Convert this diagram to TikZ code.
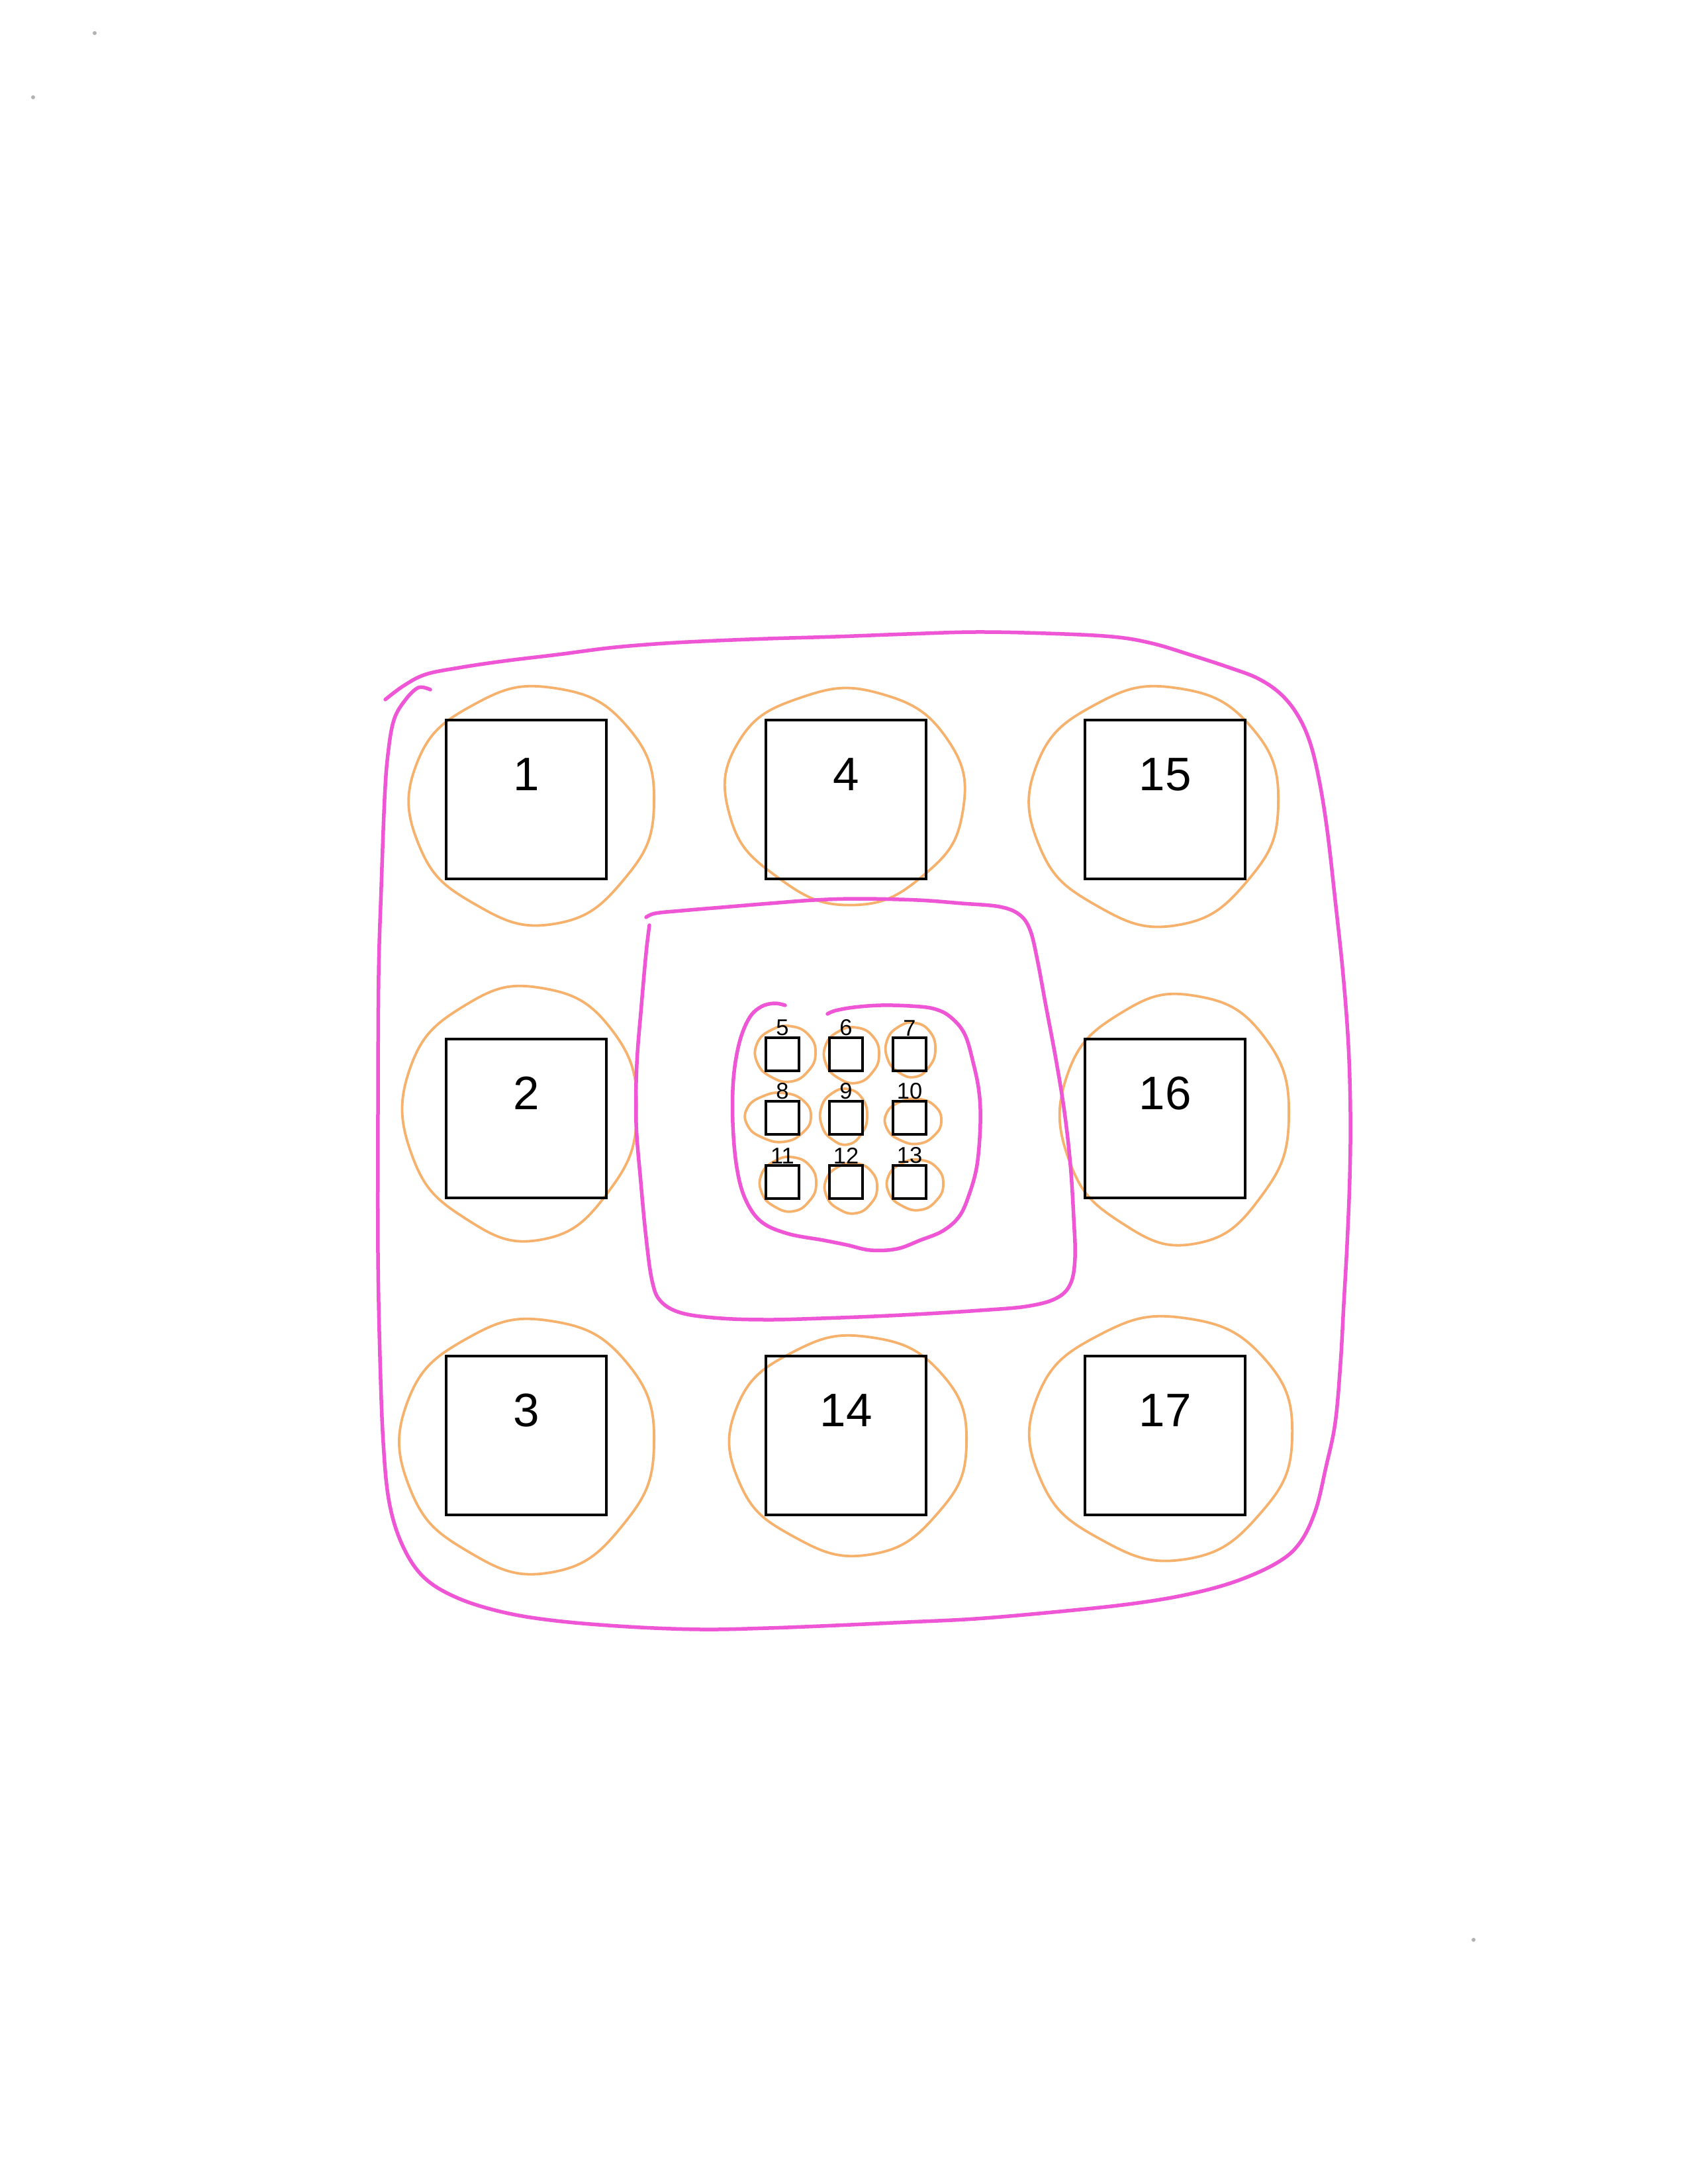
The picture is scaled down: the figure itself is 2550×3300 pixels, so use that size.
\documentclass[tikz,border=0pt]{standalone}
\usepackage{fontspec}
\setmainfont{Liberation Sans}
\definecolor{pnk}{RGB}{238,86,214}
\definecolor{orng}{RGB}{246,178,108}
\tikzset{
  ostroke/.style={draw=orng, line width=0.38mm},
  pstroke/.style={draw=pnk, line width=0.55mm, line cap=round, line join=round},
  bigbox/.style={draw=black, line width=0.45mm, minimum width=24.2mm, minimum height=24mm, inner sep=0pt},
  smallbox/.style={draw=black, line width=0.42mm, minimum width=5mm, minimum height=5mm, inner sep=0pt},
  biglbl/.style={font=\fontsize{20.2}{24}\selectfont, inner sep=0pt},
  smalllbl/.style={font=\fontsize{9.8}{12}\selectfont, inner sep=0pt},
}
\newcommand{\oblob}[5]{%
  \begin{scope}[shift={(#1,#2)},rotate=#5]
  \draw[ostroke] plot[smooth cycle,tension=0.8] coordinates {
    ({1.00*#3*cos(0)},{1.00*#4*sin(0)})
    ({0.98*#3*cos(40)},{0.98*#4*sin(40)})
    ({1.02*#3*cos(80)},{1.02*#4*sin(80)})
    ({0.97*#3*cos(120)},{0.97*#4*sin(120)})
    ({1.01*#3*cos(160)},{1.01*#4*sin(160)})
    ({1.03*#3*cos(200)},{1.03*#4*sin(200)})
    ({0.98*#3*cos(240)},{0.98*#4*sin(240)})
    ({1.00*#3*cos(280)},{1.00*#4*sin(280)})
    ({1.02*#3*cos(320)},{1.02*#4*sin(320)})
  };
  \end{scope}}
\begin{document}
\begin{tikzpicture}[x=0.1mm,y=-0.1mm]
\fill[white] (0,0) rectangle (2550,3300);
\useasboundingbox (0,0) rectangle (2550,3300);

% scan specks
\fill[gray!60] (143,50) circle (3);
\fill[gray!60] (50,147) circle (3);
\fill[gray!60] (2226,2931) circle (3);

% orange rings, big
\oblob{806}{1216}{182}{179}{0}
\oblob{1278}{1202}{178}{162}{-8}
\oblob{1746}{1217}{185}{180}{0}
\oblob{788}{1681}{174}{191}{0}
\oblob{1777}{1690}{170}{188}{0}
\oblob{799}{2184}{189}{191}{0}
\oblob{1284}{2183}{176}{165}{0}
\oblob{1757}{2172}{195}{183}{0}
% orange rings, small
\oblob{1187}{1592}{45}{42}{0}
\oblob{1287}{1594}{41}{42}{0}
\oblob{1376}{1586}{37}{41}{0}
\oblob{1176}{1688}{49}{37}{0}
\oblob{1275}{1687}{35}{42}{0}
\oblob{1380}{1694}{42}{34}{0}
\oblob{1191}{1789}{42}{41}{0}
\oblob{1286}{1795}{39}{38}{0}
\oblob{1383}{1790}{42}{38}{0}

% outer pink loop
\draw[pstroke] plot[smooth,tension=0.6] coordinates {
 (650,1042) (632,1039) (612,1058) (595,1088) (586,1140) (581,1207)
 (576,1340) (572,1473) (571,1680) (571,1894) (574,2050) (579,2180)
 (588,2270) (608,2335) (640,2383) (690,2414) (760,2436) (840,2449)
 (950,2458) (1060,2462) (1160,2460) (1262,2456) (1370,2451) (1473,2446)
 (1590,2436) (1704,2424) (1790,2410) (1865,2390) (1928,2362) (1963,2332)
 (1987,2283) (2003,2217) (2017,2150) (2025,2060) (2030,1970) (2035,1880)
 (2039,1780) (2040,1683) (2037,1580) (2029,1473) (2017,1360) (2005,1255)
 (1993,1180) (1979,1122) (1960,1080) (1934,1048) (1900,1025) (1858,1009)
 (1800,990) (1740,972) (1680,962) (1580,957) (1473,955) (1370,958)
 (1262,962) (1160,965) (1060,969) (990,973) (920,979) (843,989)
 (760,999) (693,1009) (643,1019) (610,1036) (582,1057)};

% inner pink loop
\draw[pstroke] plot[smooth,tension=0.6] coordinates {
 (976,1386) (990,1380) (1030,1376) (1090,1371) (1163,1365) (1230,1360)
 (1297,1358) (1386,1360) (1453,1365) (1510,1370) (1540,1382) (1556,1405)
 (1567,1450) (1580,1520) (1595,1600) (1608,1680) (1617,1760) (1622,1840)
 (1624,1900) (1617,1940) (1595,1962) (1550,1974) (1480,1980) (1400,1985)
 (1320,1989) (1240,1992) (1163,1994) (1090,1992) (1030,1984) (998,1966)
 (985,1935) (976,1870) (968,1786) (961,1697) (962,1608) (969,1519)
 (976,1440) (981,1398)};

% middle pink loop round the small boxes
\draw[pstroke] plot[smooth,tension=0.6] coordinates {
 (1186,1519) (1170,1516) (1150,1521) (1132,1538) (1117,1575) (1108,1630)
 (1107,1697) (1113,1764) (1126,1812) (1150,1846) (1190,1864) (1244,1874)
 (1279,1881) (1315,1889) (1355,1887) (1390,1874) (1424,1860) (1449,1838)
 (1464,1805) (1476,1760) (1481,1697) (1479,1650) (1470,1605) (1457,1562)
 (1435,1536) (1410,1524) (1375,1520) (1330,1519) (1290,1522) (1262,1527)
 (1250,1532)};

% big boxes
\node[bigbox, label={[biglbl,yshift=3.8mm]center:1}]  (b1)  at (795,1208)  {};
\node[bigbox, label={[biglbl,yshift=3.8mm]center:4}]  (b4)  at (1278,1208) {};
\node[bigbox, label={[biglbl,yshift=3.8mm]center:15}] (b15) at (1760,1208) {};
\node[bigbox, label={[biglbl,yshift=3.8mm]center:2}]  (b2)  at (795,1690)  {};
\node[bigbox, label={[biglbl,yshift=3.8mm]center:16}] (b16) at (1760,1690) {};
\node[bigbox, label={[biglbl,yshift=3.8mm]center:3}]  (b3)  at (795,2169)  {};
\node[bigbox, label={[biglbl,yshift=3.8mm]center:14}] (b14) at (1278,2169) {};
\node[bigbox, label={[biglbl,yshift=3.8mm]center:17}] (b17) at (1760,2169) {};

% small boxes
\node[smallbox, label={[smalllbl]north:5}]  (s5)  at (1182,1593) {};
\node[smallbox, label={[smalllbl]north:6}]  (s6)  at (1278,1593) {};
\node[smallbox, label={[smalllbl]north:7}]  (s7)  at (1374,1593) {};
\node[smallbox, label={[smalllbl]north:8}]  (s8)  at (1182,1689) {};
\node[smallbox, label={[smalllbl]north:9}]  (s9)  at (1278,1689) {};
\node[smallbox, label={[smalllbl]north:10}] (s10) at (1374,1689) {};
\node[smallbox, label={[smalllbl]north:11}] (s11) at (1182,1786) {};
\node[smallbox, label={[smalllbl]north:12}] (s12) at (1278,1786) {};
\node[smallbox, label={[smalllbl]north:13}] (s13) at (1374,1786) {};
\end{tikzpicture}
\end{document}
